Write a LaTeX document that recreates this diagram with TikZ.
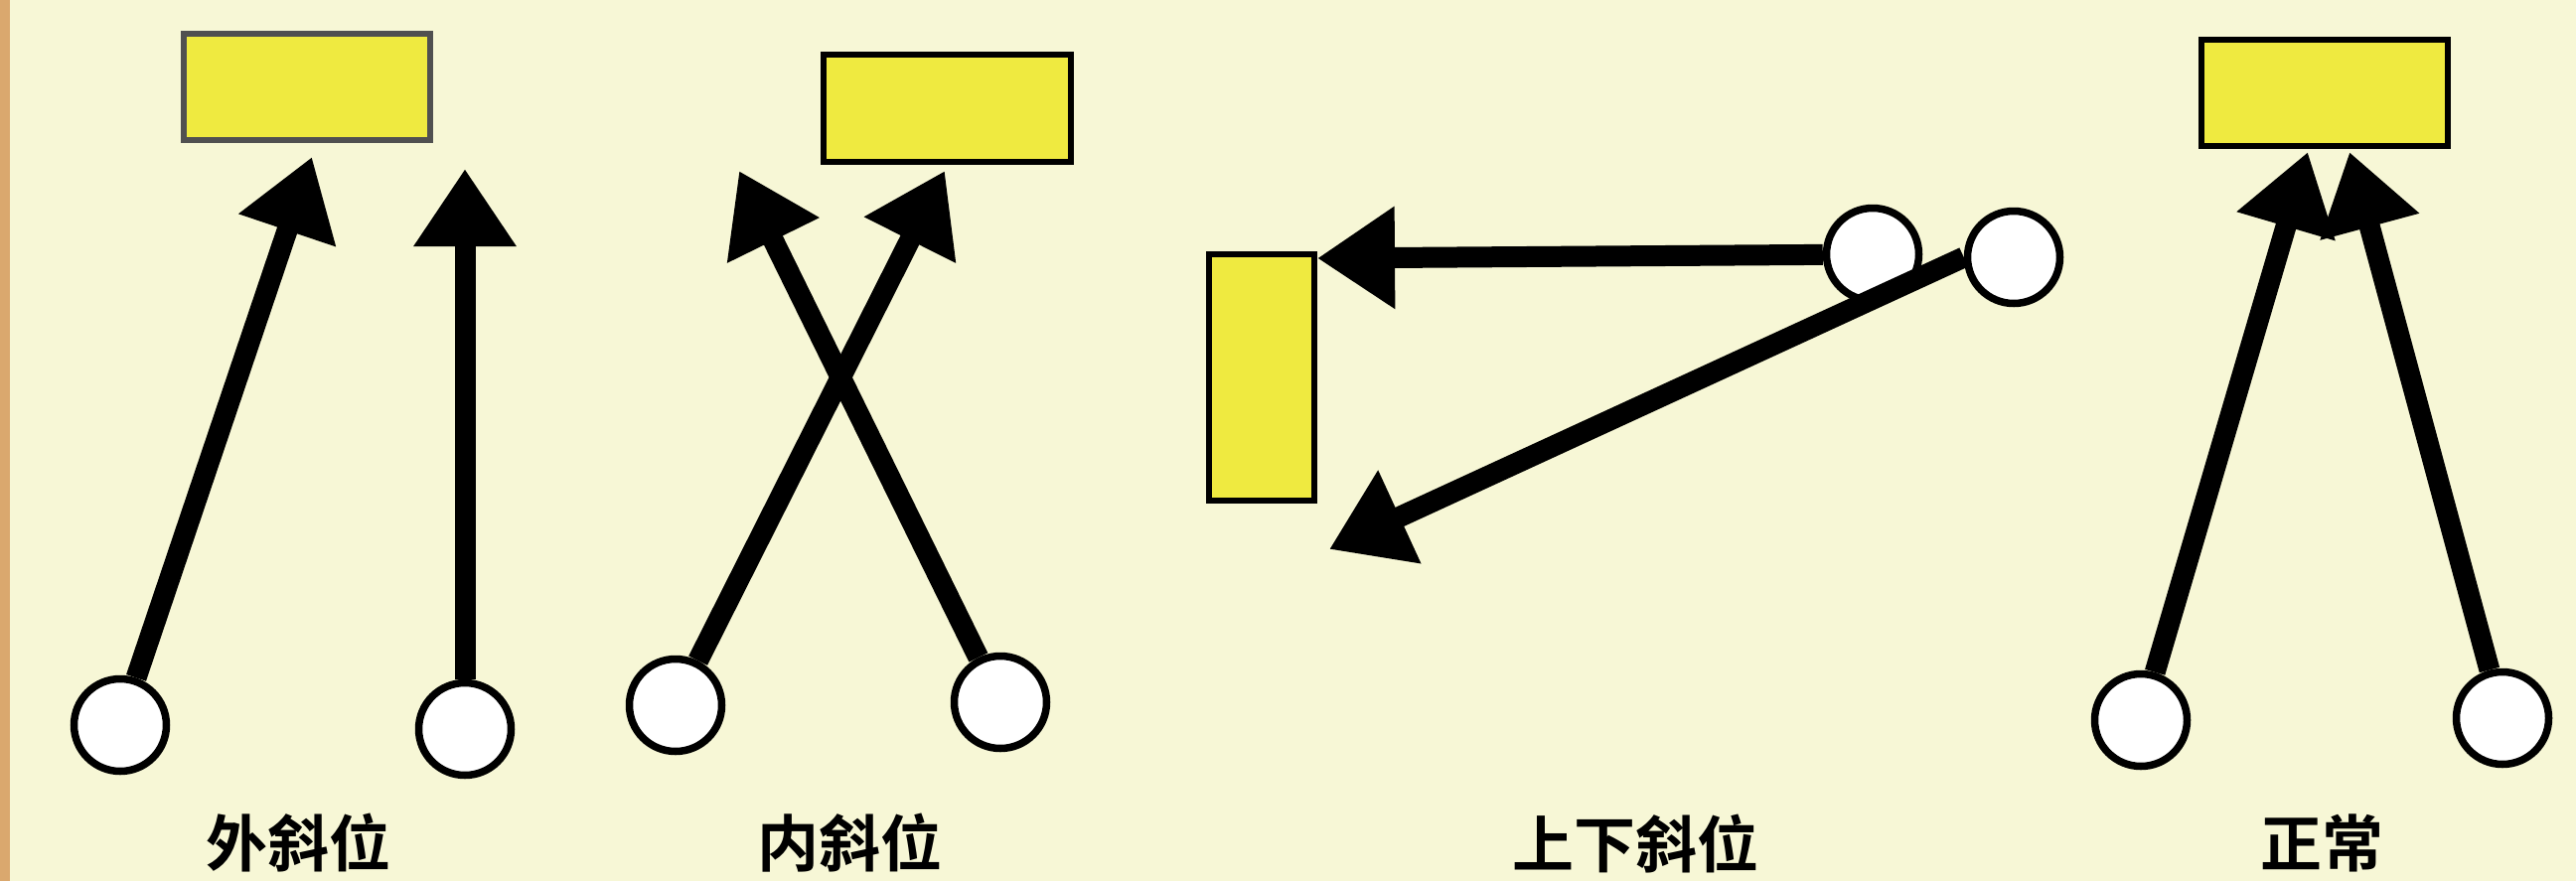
\documentclass[tikz,border=0pt]{standalone}
\usepackage{fontspec}
\newfontfamily\cjk{Noto Sans CJK SC Bold}
\usetikzlibrary{arrows.meta}
\definecolor{bgcol}{HTML}{F7F7D6}
\definecolor{edgecol}{HTML}{DAA86E}
\definecolor{yelcol}{HTML}{EFEA40}
\definecolor{greyedge}{HTML}{505050}
\tikzset{
  tooth/.style={circle, draw=black, line width=7.5pt, fill=white, minimum size=93pt, inner sep=0pt},
  target/.style={draw=black, line width=6pt, fill=yelcol, inner sep=0pt},
  muscle/.style={line width=21pt, -{Triangle[length=78pt,width=98pt]}},
  caption/.style={font=\cjk\fontsize{62pt}{62pt}\selectfont, text=black, inner sep=0pt}
}
\begin{document}
\begin{tikzpicture}[x=1pt,y=-1pt]
\useasboundingbox (0,0) rectangle (2593,887);
\fill[bgcol] (0,0) rectangle (2593,887);
\fill[edgecol] (0,0) rectangle (10,887);

% panel 1
\node[target, draw=greyedge, minimum width=248pt, minimum height=107pt] (r1) at (309,87.5) {};
\node[tooth] (a) at (121,730) {};
\node[tooth] (b) at (468,734) {};
\coordinate (ta) at (314,158);
\coordinate (tb) at (468,170);
\draw[muscle] (a) -- (ta);
\draw[muscle] (b) -- (tb);
\node[caption] (l1) at (300,848) {外斜位};

% panel 2
\node[target, minimum width=249pt, minimum height=108pt] (r2) at (953.5,109) {};
\node[tooth] (c) at (680,710) {};
\node[tooth] (d) at (1007,707) {};
\coordinate (tc) at (951,172);
\coordinate (td) at (744,172);
\draw[muscle] (c) -- (tc);
\draw[muscle] (d) -- (td);
\node[caption] (l2) at (855,849) {内斜位};

% panel 3
\node[target, minimum width=106pt, minimum height=248pt] (r3) at (1270,380) {};
\node[tooth] (e) at (1885,256) {};
\node[tooth] (f) at (2027,259) {};
\coordinate (te) at (1326,260);
\coordinate (tf) at (1338,553);
\draw[muscle] (e) -- (te);
\draw[muscle] (f.west) -- (tf);
\node[caption] (l3) at (1646,849) {上下斜位};

% panel 4
\node[target, minimum width=248pt, minimum height=107pt] (r4) at (2340,93.5) {};
\node[tooth] (g) at (2155,725) {};
\node[tooth] (h) at (2519,723) {};
\coordinate (tg) at (2323,153);
\coordinate (th) at (2365,153);
\draw[muscle] (g) -- (tg);
\draw[muscle] (h) -- (th);
\node[caption] (l4) at (2337,849) {正常};
\end{tikzpicture}
\end{document}
